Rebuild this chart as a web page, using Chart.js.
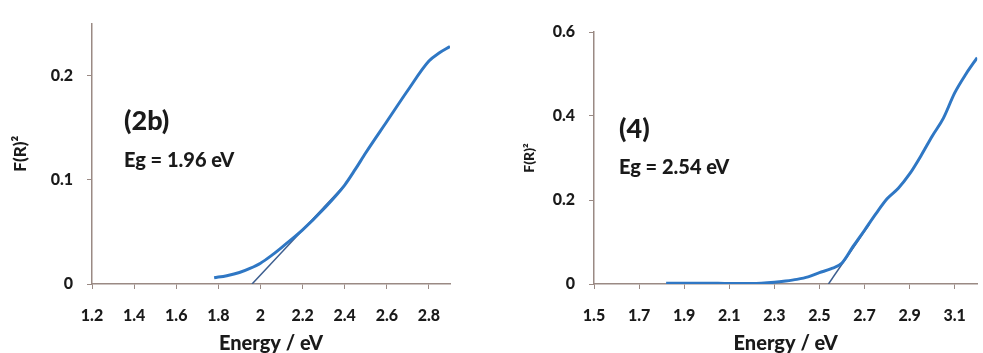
<!DOCTYPE html>
<html>
<head>
<meta charset="utf-8">
<script src="https://cdn.jsdelivr.net/npm/chart.js@4"></script>
<style>
  body { margin: 0; background: #fff; }
  .panel { position: absolute; top: 0; height: 353px; }
  #left { left: 0; width: 491px; }
  #right { left: 491px; width: 492px; }
</style>
</head>
<body>
<div class="panel" id="left"><canvas id="chartLeft"></canvas></div>
<div class="panel" id="right"><canvas id="chartRight"></canvas></div>
<script>
// Panel (2b) data
const leftEnergy = [1.78, 1.84, 1.9, 1.95, 2.0, 2.05, 2.1, 2.2, 2.3, 2.4, 2.45, 2.5, 2.6, 2.7, 2.8, 2.85, 2.9];
const leftFR2 = [0.006, 0.008, 0.011, 0.015, 0.02, 0.027, 0.035, 0.052, 0.072, 0.095, 0.11, 0.126, 0.156, 0.186, 0.214, 0.222, 0.228];
const leftTangentX = [1.96, 2.4];
const leftTangentY = [0, 0.095];
const leftXTicks = [1.2, 1.4, 1.6, 1.8, 2.0, 2.2, 2.4, 2.6, 2.8];
const leftXLabels = ['1.2', '1.4', '1.6', '1.8', '2', '2.2', '2.4', '2.6', '2.8'];
const leftYTicks = [0, 0.1, 0.2];
const leftYLabels = ['0', '0.1', '0.2'];

// Panel (4) data
const rightEnergy = [1.82, 1.9, 2.0, 2.1, 2.2, 2.3, 2.35, 2.4, 2.45, 2.5, 2.55, 2.6, 2.65, 2.7, 2.75, 2.8, 2.85, 2.9, 2.95, 3.0, 3.05, 3.1, 3.15, 3.2];
const rightFR2 = [0.002, 0.002, 0.002, 0.001, 0.001, 0.004, 0.007, 0.011, 0.017, 0.027, 0.036, 0.05, 0.09, 0.128, 0.167, 0.203, 0.228, 0.262, 0.305, 0.352, 0.395, 0.455, 0.5, 0.539];
const rightTangentX = [2.54, 2.72];
const rightTangentY = [0, 0.141];
const rightXTicks = [1.5, 1.7, 1.9, 2.1, 2.3, 2.5, 2.7, 2.9, 3.1];
const rightXLabels = ['1.5', '1.7', '1.9', '2.1', '2.3', '2.5', '2.7', '2.9', '3.1'];
const rightYTicks = [0, 0.2, 0.4, 0.6];
const rightYLabels = ['0', '0.2', '0.4', '0.6'];

const FONT = 'Lato, "Open Sans", sans-serif';
const AXIS_COLOR = '#9a8a84';
const CURVE_COLOR = '#2f77c4';
const TANGENT_COLOR = '#3d5e8f';

function points(xs, ys) {
    return xs.map((x, i) => ({ x: x, y: ys[i] }));
}

// Draws the sample tag and band gap text inside the plot
function notesPlugin(tag, gap, x, tagY, gapY) {
    return {
        id: 'notes',
        afterDraw(chart) {
            const ctx = chart.ctx;
            ctx.save();
            ctx.fillStyle = '#1a1a1a';
            ctx.textBaseline = 'middle';
            ctx.font = '900 27px ' + FONT;
            ctx.fillText(tag, x, tagY);
            ctx.font = '900 20px ' + FONT;
            ctx.fillText(gap, x, gapY);
            ctx.restore();
        }
    };
}

function makeChart(id, cfg) {
    const tickFont = { family: FONT, size: 16, weight: '900' };
    return new Chart(document.getElementById(id), {
        type: 'line',
        data: {
            datasets: [{
                data: points(cfg.energy, cfg.fr2),
                borderColor: CURVE_COLOR,
                borderWidth: 3,
                pointRadius: 0,
                cubicInterpolationMode: 'monotone'
            }, {
                data: points(cfg.tanX, cfg.tanY),
                borderColor: TANGENT_COLOR,
                borderWidth: 1.5,
                pointRadius: 0
            }]
        },
        options: {
            responsive: true,
            maintainAspectRatio: false,
            animation: false,
            layout: { padding: cfg.padding },
            plugins: { legend: { display: false }, tooltip: { enabled: false } },
            scales: {
                x: {
                    type: 'linear',
                    min: cfg.xMin,
                    max: cfg.xMax,
                    afterBuildTicks: s => { s.ticks = cfg.xTicks.map(v => ({ value: v })); },
                    afterFit: s => { s.height = cfg.xHeight; },
                    grid: { display: true, drawOnChartArea: false, tickLength: 5, color: AXIS_COLOR },
                    border: { color: AXIS_COLOR, width: 1.5 },
                    ticks: {
                        padding: 17,
                        maxRotation: 0,
                        autoSkip: false,
                        color: '#1a1a1a',
                        font: tickFont,
                        callback: (v, i) => cfg.xLabels[i]
                    },
                    title: {
                        display: true,
                        text: 'Energy / eV',
                        color: '#1a1a1a',
                        padding: { top: 0, bottom: -3 },
                        font: { family: FONT, size: 20, weight: '900' }
                    }
                },
                y: {
                    type: 'linear',
                    min: 0,
                    max: cfg.yMax,
                    afterBuildTicks: s => { s.ticks = cfg.yTicks.map(v => ({ value: v })); },
                    afterFit: s => { s.width = cfg.yWidth; },
                    grid: { display: true, drawOnChartArea: false, tickLength: 5, color: AXIS_COLOR },
                    border: { color: AXIS_COLOR, width: 1.5 },
                    ticks: {
                        padding: 14,
                        color: '#1a1a1a',
                        font: tickFont,
                        callback: (v, i) => cfg.yLabels[i]
                    },
                    title: {
                        display: true,
                        text: 'F(R)²',
                        color: '#1a1a1a',
                        padding: { top: 0, bottom: 0 },
                        font: { family: FONT, size: cfg.yTitleSize, weight: '900' }
                    }
                }
            }
        },
        plugins: [notesPlugin(cfg.tag, cfg.gap, cfg.noteX, cfg.tagY, cfg.gapY)]
    });
}

makeChart('chartLeft', {
    energy: leftEnergy, fr2: leftFR2, tanX: leftTangentX, tanY: leftTangentY,
    xMin: 1.2, xMax: 2.9, yMax: 0.25,
    xTicks: leftXTicks, xLabels: leftXLabels, yTicks: leftYTicks, yLabels: leftYLabels,
    padding: { left: 10, right: 41, top: 10, bottom: 0 },
    yWidth: 82, xHeight: 69, yTitleSize: 17,
    tag: '(2b)', gap: 'Eg = 1.96 eV', noteX: 124, tagY: 121, gapY: 161
});

makeChart('chartRight', {
    energy: rightEnergy, fr2: rightFR2, tanX: rightTangentX, tanY: rightTangentY,
    xMin: 1.5, xMax: 3.2, yMax: 0.6,
    xTicks: rightXTicks, xLabels: rightXLabels, yTicks: rightYTicks, yLabels: rightYLabels,
    padding: { left: 30, right: 2, top: 32, bottom: 0 },
    yWidth: 73, xHeight: 69, yTitleSize: 14,
    tag: '(4)', gap: 'Eg = 2.54 eV', noteX: 128, tagY: 129, gapY: 168
});
</script>
</body>
</html>
